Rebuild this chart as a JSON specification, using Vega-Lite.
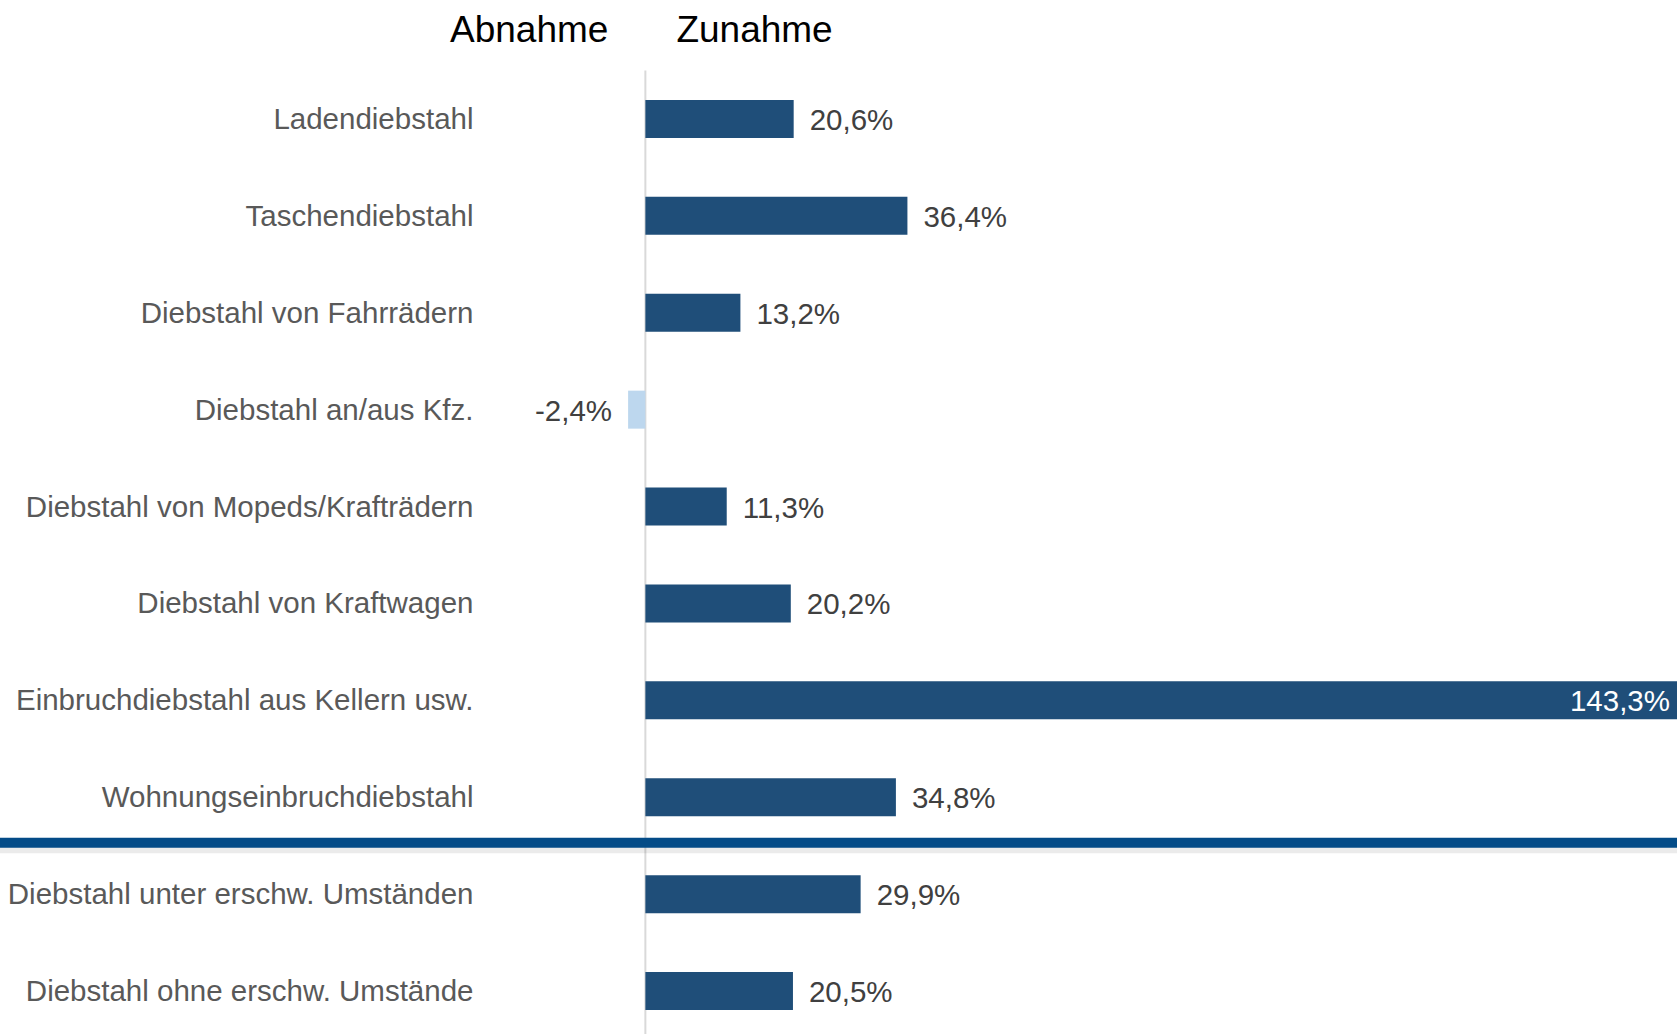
{
  "$schema": "https://vega.github.io/schema/vega-lite/v6.json",
  "width": 1190,
  "height": 969,
  "autosize": {"type": "none"},
  "padding": {"left": 487, "top": 70.5, "right": 0, "bottom": 0},
  "background": "white",
  "config": {
    "view": {"stroke": null},
    "font": "Liberation Sans",
    "locale": {"number": {"decimal": ",", "thousands": ".", "grouping": [3], "currency": ["", " €"], "minus": "-"}}
  },
  "datasets": {
    "delikte": [
      {"Delikt": "Ladendiebstahl", "Wert": 0.206},
      {"Delikt": "Taschendiebstahl", "Wert": 0.364},
      {"Delikt": "Diebstahl von Fahrrädern", "Wert": 0.132},
      {"Delikt": "Diebstahl an/aus Kfz.", "Wert": -0.024},
      {"Delikt": "Diebstahl von Mopeds/Krafträdern", "Wert": 0.113},
      {"Delikt": "Diebstahl von Kraftwagen", "Wert": 0.202},
      {"Delikt": "Einbruchdiebstahl aus Kellern usw.", "Wert": 1.433},
      {"Delikt": "Wohnungseinbruchdiebstahl", "Wert": 0.348},
      {"Delikt": "Diebstahl unter erschw. Umständen", "Wert": 0.299},
      {"Delikt": "Diebstahl ohne erschw. Umstände", "Wert": 0.205}
    ],
    "kopf": [{"Kopf": "Abnahme"}, {"Kopf": "Zunahme"}]
  },
  "layer": [
    {
      "data": {"values": [{}]},
      "mark": {"type": "rule", "color": "#d9d9d9", "strokeWidth": 2},
      "encoding": {
        "x": {"datum": 0, "type": "quantitative", "scale": {"domain": [-0.22, 1.433], "nice": false, "zero": false}, "axis": null}
      }
    },
    {
      "data": {"name": "delikte"},
      "mark": {"type": "bar", "size": 38},
      "encoding": {
        "y": {"field": "Delikt", "type": "nominal", "sort": null,
          "scale": {"domain": ["Ladendiebstahl", "Taschendiebstahl", "Diebstahl von Fahrrädern", "Diebstahl an/aus Kfz.", "Diebstahl von Mopeds/Krafträdern", "Diebstahl von Kraftwagen", "Einbruchdiebstahl aus Kellern usw.", "Wohnungseinbruchdiebstahl", "Diebstahl unter erschw. Umständen", "Diebstahl ohne erschw. Umstände"], "paddingInner": 0, "paddingOuter": 0},
          "axis": {"title": null, "ticks": false, "domain": false, "grid": false, "labelFontSize": 29.5, "labelColor": "#595959", "labelPadding": 14, "labelLimit": 700, "labelFont": "Liberation Sans", "labelOffset": 1}
        },
        "x": {"field": "Wert", "type": "quantitative", "scale": {"domain": [-0.22, 1.433], "nice": false, "zero": false}, "axis": null},
        "color": {"condition": {"test": "datum.Wert < 0", "value": "#bdd7ee"}, "value": "#1f4e79"}
      }
    },
    {
      "data": {"name": "delikte"},
      "transform": [{"filter": "datum.Wert >= 0 && datum.Wert < 1"}],
      "mark": {"type": "text", "align": "left", "baseline": "middle", "dx": 16, "dy": 2, "fontSize": 29.5, "color": "#404040"},
      "encoding": {
        "y": {"field": "Delikt", "type": "nominal", "sort": null},
        "x": {"field": "Wert", "type": "quantitative"},
        "text": {"field": "Wert", "type": "quantitative", "format": ".1%"}
      }
    },
    {
      "data": {"name": "delikte"},
      "transform": [{"filter": "datum.Wert >= 1"}],
      "mark": {"type": "text", "align": "right", "baseline": "middle", "dx": -7, "dy": 2, "fontSize": 29.5, "color": "white"},
      "encoding": {
        "y": {"field": "Delikt", "type": "nominal", "sort": null},
        "x": {"field": "Wert", "type": "quantitative"},
        "text": {"field": "Wert", "type": "quantitative", "format": ".1%"}
      }
    },
    {
      "data": {"name": "delikte"},
      "transform": [{"filter": "datum.Wert < 0"}],
      "mark": {"type": "text", "align": "right", "baseline": "middle", "dx": -16, "dy": 2, "fontSize": 29.5, "color": "#404040"},
      "encoding": {
        "y": {"field": "Delikt", "type": "nominal", "sort": null},
        "x": {"field": "Wert", "type": "quantitative"},
        "text": {"field": "Wert", "type": "quantitative", "format": ".1%"}
      }
    },
    {
      "data": {"name": "delikte"},
      "transform": [{"filter": "datum.Delikt == 'Diebstahl unter erschw. Umständen'"}],
      "mark": {"type": "rule", "color": "#000000", "opacity": 0.08, "strokeWidth": 7, "yOffset": 4},
      "encoding": {
        "y": {"field": "Delikt", "type": "nominal", "sort": null, "bandPosition": 0},
        "x": {"datum": -0.9, "type": "quantitative"},
        "x2": {"datum": 1.45}
      }
    },
    {
      "data": {"name": "delikte"},
      "transform": [{"filter": "datum.Delikt == 'Diebstahl unter erschw. Umständen'"}],
      "mark": {"type": "rule", "color": "#034b87", "strokeWidth": 10, "yOffset": -3},
      "encoding": {
        "y": {"field": "Delikt", "type": "nominal", "sort": null, "bandPosition": 0},
        "x": {"datum": -0.9, "type": "quantitative"},
        "x2": {"datum": 1.45}
      }
    },
    {
      "data": {"name": "kopf"},
      "transform": [{"filter": "datum.Kopf == 'Abnahme'"}],
      "mark": {"type": "text", "align": "right", "baseline": "middle", "dx": -37, "dy": -88, "fontSize": 37, "color": "#000000"},
      "encoding": {
        "y": {"datum": "Ladendiebstahl", "type": "nominal"},
        "x": {"datum": 0, "type": "quantitative"},
        "text": {"field": "Kopf"}
      }
    },
    {
      "data": {"name": "kopf"},
      "transform": [{"filter": "datum.Kopf == 'Zunahme'"}],
      "mark": {"type": "text", "align": "left", "baseline": "middle", "dx": 31, "dy": -88, "fontSize": 37, "color": "#000000"},
      "encoding": {
        "y": {"datum": "Ladendiebstahl", "type": "nominal"},
        "x": {"datum": 0, "type": "quantitative"},
        "text": {"field": "Kopf"}
      }
    }
  ]
}
